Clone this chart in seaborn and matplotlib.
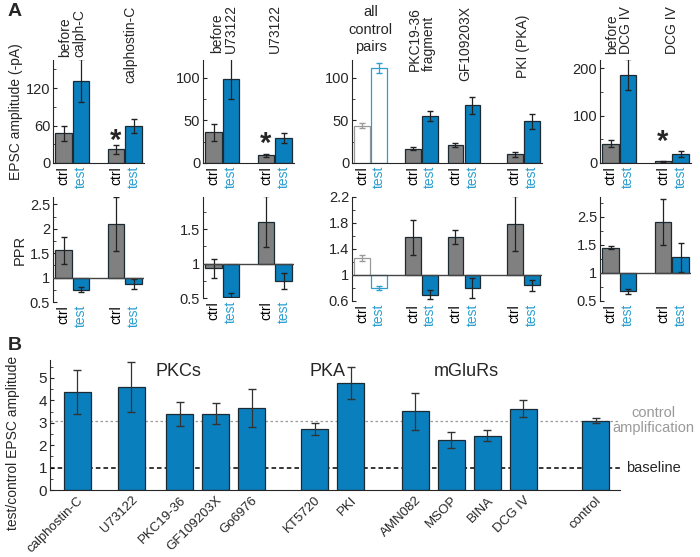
import numpy as np
import pandas as pd
import matplotlib
matplotlib.use("Agg")
import matplotlib.pyplot as plt
import matplotlib.transforms as mtransforms
from matplotlib.ticker import AutoMinorLocator
import seaborn as sns

# ---- panel A data: EPSC amplitude (-pA), [ctrl, test] per group ----
amp1_groups = ["before\ncalph-C", "calphostin-C"]
amp1_ctrl = [48, 22]
amp1_ctrl_err = [12, 7]
amp1_test = [132, 59]
amp1_test_err = [35, 11]

amp2_groups = ["before\nU73122", "U73122"]
amp2_ctrl = [36, 9]
amp2_ctrl_err = [10, 2]
amp2_test = [99, 29]
amp2_test_err = [24, 6]

amp3_groups = ["all\ncontrol\npairs", "PKC19-36\nfragment", "GF109203X", "PKI (PKA)"]
amp3_ctrl = [44, 17, 21, 10]
amp3_ctrl_err = [3, 1.5, 2, 3]
amp3_test = [112, 55, 68, 49]
amp3_test_err = [6, 6, 10, 9]

amp4_groups = ["before\nDCG IV", "DCG IV"]
amp4_ctrl = [41, 4]
amp4_ctrl_err = [7, 1]
amp4_test = [186, 19]
amp4_test_err = [33, 6]

# ---- panel A data: PPR ----
ppr1_ctrl = [1.56, 2.10]
ppr1_ctrl_err = [0.28, 0.55]
ppr1_test = [0.75, 0.87]
ppr1_test_err = [0.05, 0.10]

ppr2_ctrl = [0.93, 1.61]
ppr2_ctrl_err = [0.14, 0.37]
ppr2_test = [0.52, 0.75]
ppr2_test_err = [0.05, 0.12]

ppr3_ctrl = [1.26, 1.58, 1.59, 1.79]
ppr3_ctrl_err = [0.05, 0.27, 0.11, 0.42]
ppr3_test = [0.80, 0.70, 0.80, 0.84]
ppr3_test_err = [0.03, 0.07, 0.15, 0.09]

ppr4_ctrl = [1.45, 1.90]
ppr4_ctrl_err = [0.02, 0.41]
ppr4_test = [0.67, 1.28]
ppr4_test_err = [0.05, 0.26]

# ---- panel B data: test/control EPSC amplitude ----
b_labels = ["calphostin-C", "U73122", "PKC19-36", "GF109203X", "Go6976",
            "KT5720", "PKI", "AMN082", "MSOP", "BINA", "DCG IV", "control"]
b_values = [4.37, 4.60, 3.40, 3.41, 3.67, 2.72, 4.77, 3.51, 2.24, 2.43, 3.62, 3.10]
b_err = [1.0, 1.1, 0.54, 0.46, 0.85, 0.26, 0.73, 0.82, 0.37, 0.25, 0.38, 0.12]
b_groups = ["PKCs", "PKA", "mGluRs"]
control_amp = 3.1
baseline = 1.0

# layout (bar positions)
b_xpos = [0, 1.5, 2.85, 3.85, 4.85, 6.6, 7.6, 9.4, 10.4, 11.4, 12.4, 14.4]
b_group_x = [2.83, 6.95, 10.8]

BLUE = "#0a7fbd"
GRAY = "#808080"
TEST_C = "#2a9fd0"
EDGE = "#1c2b33"

sns.set_style("ticks")
plt.rcParams["font.family"] = ["Liberation Sans", "DejaVu Sans"]

fig = plt.figure(figsize=(7.0, 5.57), dpi=100)
W, H = 700.0, 557.0


def add_ax(x0, y_top, x1, y_bot):
    return fig.add_axes([x0 / W, 1 - y_bot / H, (x1 - x0) / W, (y_bot - y_top) / H])


def pair_pos(starts):
    ctrl = np.array(starts, dtype=float)
    return ctrl, ctrl + 1


def style_ax(ax, ticks, labels):
    ax.set_xticks(ticks)
    ax.set_xticklabels(labels, rotation=90, fontsize=10)
    for t in ax.get_xticklabels():
        t.set_color(TEST_C if t.get_text() == "test" else "black")
    ax.tick_params(axis="x", length=0, pad=2)
    ax.tick_params(axis="y", direction="in", labelsize=10.5, length=3, pad=2)
    ax.tick_params(axis="y", which="minor", direction="in", length=2)
    ax.yaxis.set_minor_locator(AutoMinorLocator(2))
    sns.despine(ax=ax, top=True, right=True)


def draw_pairs(ax, cx, tx, ctrl, ctrl_e, test, test_e, bottom, open_first):
    for i in range(len(cx)):
        if open_first and i == 0:
            fc_c, fc_t, ec_c, ec_t, er_c, er_t = "white", "white", "#999999", TEST_C, "#999999", TEST_C
        else:
            fc_c, fc_t, ec_c, ec_t, er_c, er_t = GRAY, BLUE, EDGE, EDGE, "#222222", "#222222"
        ax.bar(cx[i], ctrl[i] - bottom, bottom=bottom, width=0.92, color=fc_c, edgecolor=ec_c, lw=0.9)
        ax.bar(tx[i], test[i] - bottom, bottom=bottom, width=0.92, color=fc_t, edgecolor=ec_t, lw=0.9)
        ax.errorbar(cx[i], ctrl[i], yerr=ctrl_e[i], color=er_c, capsize=2.5, lw=0.9)
        ax.errorbar(tx[i], test[i], yerr=test_e[i], color=er_t, capsize=2.5, lw=0.9)


def amp_panel(ax, starts, ctrl, ctrl_e, test, test_e, ylim, yticks, open_first=False):
    cx, tx = pair_pos(starts)
    draw_pairs(ax, cx, tx, ctrl, ctrl_e, test, test_e, 0, open_first)
    ax.set_ylim(*ylim)
    ax.set_yticks(yticks)
    ticks = np.ravel(np.column_stack([cx, tx]))
    style_ax(ax, ticks, ["ctrl", "test"] * len(cx))
    ax.set_xlim(starts[0] - 0.6, starts[-1] + 1.6)


def ppr_panel(ax, starts, ctrl, ctrl_e, test, test_e, ylim, yticks, ylabels, open_first=False):
    cx, tx = pair_pos(starts)
    draw_pairs(ax, cx, tx, ctrl, ctrl_e, test, test_e, 1, open_first)
    ax.axhline(1, color="#444444", lw=1, zorder=3)
    ax.set_ylim(*ylim)
    ax.set_yticks(yticks)
    ax.set_yticklabels(ylabels)
    ticks = np.ravel(np.column_stack([cx, tx]))
    style_ax(ax, ticks, ["ctrl", "test"] * len(cx))
    ax.spines["bottom"].set_visible(False)
    ax.set_xlim(starts[0] - 0.6, starts[-1] + 1.6)


def group_label(ax, x, yfrac, text, rot=90, ls=1.0, fs=10):
    ax.text(x, yfrac, text, transform=ax.get_xaxis_transform(), rotation=rot,
            ha="center", va="bottom", fontsize=fs, linespacing=ls,
            multialignment="left" if rot == 90 else "center", clip_on=False)


def star(ax, x, y):
    ax.text(x, y, "*", ha="center", va="center", fontsize=21, fontweight="bold")


# ---- panel A top row ----
a1 = add_ax(53, 60, 144, 163)
amp_panel(a1, [0, 3], amp1_ctrl, amp1_ctrl_err, amp1_test, amp1_test_err, (0, 165), [0, 60, 120])
a1.set_ylabel("EPSC amplitude (-pA)", fontsize=10, labelpad=2)
group_label(a1, 0.5, 1.03, amp1_groups[0])
group_label(a1, 3.8, 0.78, amp1_groups[1])
star(a1, 3, 35)

a2 = add_ax(203, 60, 294, 163)
amp_panel(a2, [0, 3], amp2_ctrl, amp2_ctrl_err, amp2_test, amp2_test_err, (0, 121), [0, 50, 100])
group_label(a2, 0.6, 1.07, amp2_groups[0])
group_label(a2, 3.5, 1.07, amp2_groups[1])
star(a2, 3, 22)

a3 = add_ax(352, 60, 542, 163)
amp_panel(a3, [0, 3, 5.5, 9], amp3_ctrl, amp3_ctrl_err, amp3_test, amp3_test_err,
          (0, 121), [0, 50, 100], open_first=True)
group_label(a3, 0.5, 1.06, amp3_groups[0], rot=0, ls=1.3, fs=10.5)
group_label(a3, 3.5, 0.89, amp3_groups[1])
group_label(a3, 6.1, 0.80, amp3_groups[2])
group_label(a3, 9.5, 0.83, amp3_groups[3])

a4 = add_ax(600, 60, 691, 163)
amp_panel(a4, [0, 3], amp4_ctrl, amp4_ctrl_err, amp4_test, amp4_test_err, (0, 217), [0, 100, 200])
group_label(a4, 0.5, 1.06, amp4_groups[0])
group_label(a4, 3.5, 1.06, amp4_groups[1])
star(a4, 3, 45)

# ---- panel A PPR row ----
p1 = add_ax(53, 197, 144, 302)
ppr_panel(p1, [0, 3], ppr1_ctrl, ppr1_ctrl_err, ppr1_test, ppr1_test_err,
          (0.5, 2.65), [0.5, 1, 1.5, 2, 2.5], ["0.5", "1", "1.5", "2", "2.5"])
p1.set_ylabel("PPR", fontsize=10.5, labelpad=2)

p2 = add_ax(203, 197, 294, 298)
ppr_panel(p2, [0, 3], ppr2_ctrl, ppr2_ctrl_err, ppr2_test, ppr2_test_err,
          (0.5, 1.97), [0.5, 1, 1.5], ["0.5", "1", "1.5"])

p3 = add_ax(352, 197, 542, 301)
ppr_panel(p3, [0, 3, 5.5, 9], ppr3_ctrl, ppr3_ctrl_err, ppr3_test, ppr3_test_err,
          (0.6, 2.2), [0.6, 1, 1.4, 1.8, 2.2], ["0.6", "1", "1.4", "1.8", "2.2"], open_first=True)

p4 = add_ax(600, 197, 691, 301)
ppr_panel(p4, [0, 3], ppr4_ctrl, ppr4_ctrl_err, ppr4_test, ppr4_test_err,
          (0.5, 2.35), [0.5, 1, 1.5, 2], ["0.5", "1", "1.5", "2.5"])

# ---- panel B ----
df_b = pd.DataFrame({"x": b_xpos, "value": b_values, "label": b_labels})
bx = add_ax(50, 360, 620, 490)
sns.barplot(data=df_b, x="x", y="value", native_scale=True, width=0.75,
            color=BLUE, saturation=1, edgecolor=EDGE, linewidth=0.9, ax=bx, zorder=2)
bx.errorbar(b_xpos, b_values, yerr=b_err, fmt="none", ecolor="#333333",
            capsize=3, lw=0.9, zorder=3)
bx.axhline(control_amp, color="#999999", ls=(0, (2, 2)), lw=0.9, zorder=1)
bx.axhline(baseline, color="black", ls=(0, (3, 2)), lw=1.1, zorder=1)
bx.set_xlim(-0.75, 15.08)
bx.set_ylim(0, 5.8)
bx.set_yticks(range(0, 6))
bx.yaxis.set_minor_locator(AutoMinorLocator(2))
bx.tick_params(axis="y", direction="in", labelsize=11, length=3, pad=2)
bx.tick_params(axis="y", which="minor", direction="in", length=2)
bx.set_xticks(b_xpos)
bx.set_xticklabels(b_labels, rotation=45, ha="right", rotation_mode="anchor", fontsize=9.5)
shift = mtransforms.ScaledTranslation(9 / 100, 2 / 100, fig.dpi_scale_trans)
for t in bx.get_xticklabels():
    t.set_transform(t.get_transform() + shift)
bx.tick_params(axis="x", length=0, pad=3)
bx.set_xlabel("")
bx.set_ylabel("test/control EPSC amplitude", fontsize=10)
bx.yaxis.set_label_coords(-0.053, 0.36)
sns.despine(ax=bx)
for gx, g in zip(b_group_x, b_groups):
    bx.text(gx, 5.28, g, ha="center", va="center", fontsize=13)
bx.text(16.0, control_amp, "control\namplification", ha="center", va="center",
        fontsize=10.5, color="#999999", linespacing=1.1, clip_on=False)
bx.text(16.0, baseline, "baseline", ha="center", va="center", fontsize=10.5, clip_on=False)

fig.text(8 / W, 1 - 12 / H, "A", fontsize=14, fontweight="bold", va="center")
fig.text(8 / W, 1 - 346 / H, "B", fontsize=14, fontweight="bold", va="center")

fig.savefig("out.png", dpi=100)
